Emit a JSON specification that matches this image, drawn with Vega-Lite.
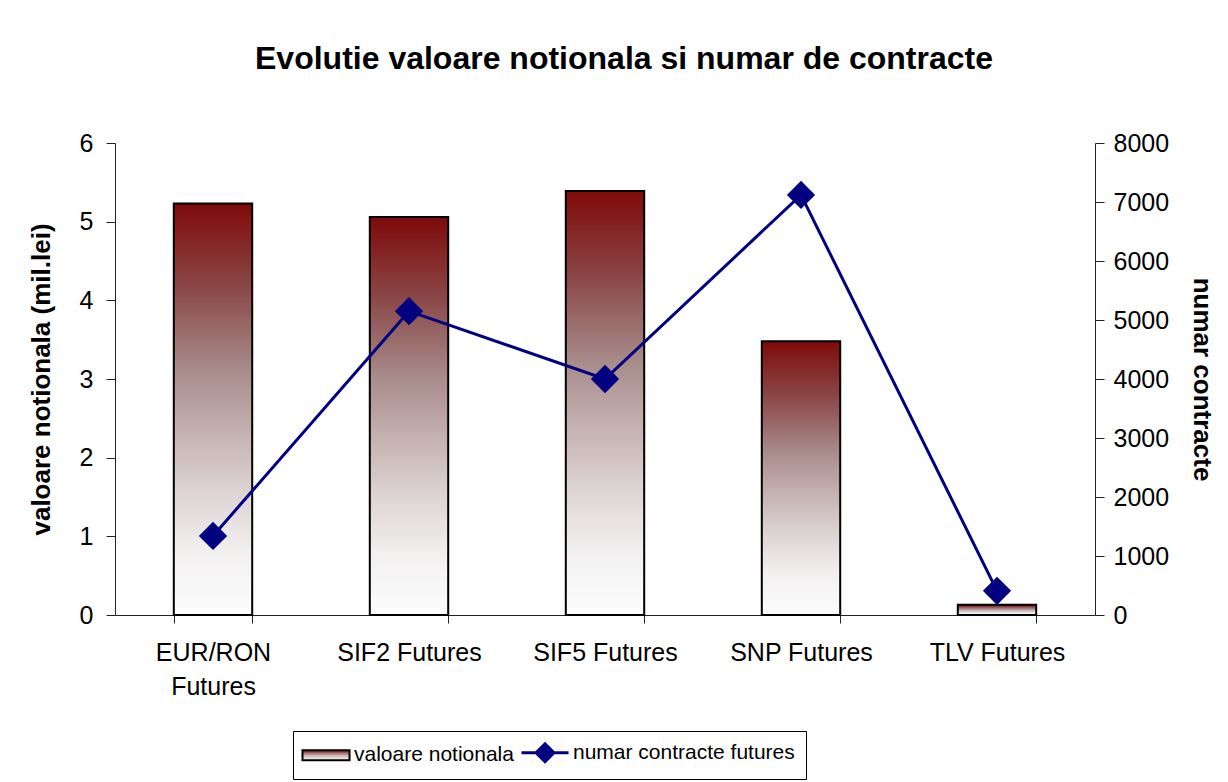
{
  "$schema": "https://vega.github.io/schema/vega-lite/v6.json",
  "width": 980,
  "height": 472,
  "autosize": {"type": "none"},
  "padding": {"left": 115, "top": 143, "right": 133, "bottom": 167},
  "background": "white",
  "title": {
    "text": "Evolutie valoare notionala si numar de contracte",
    "font": "Liberation Sans",
    "fontSize": 32,
    "fontWeight": "bold",
    "color": "black",
    "anchor": "middle",
    "frame": "group",
    "dx": 19,
    "offset": 55
  },
  "config": {
    "view": {"stroke": null},
    "font": "Liberation Sans",
    "axis": {
      "labelFont": "Liberation Sans",
      "titleFont": "Liberation Sans",
      "labelFontSize": 25,
      "titleFontSize": 26,
      "titleFontWeight": "bold",
      "labelColor": "black",
      "titleColor": "black",
      "domainColor": "#222",
      "tickColor": "#222",
      "grid": false
    }
  },
  "data": {
    "values": [
      {"cat": "EUR/RON Futures", "valoare": 5.23, "contracte": 1340},
      {"cat": "SIF2 Futures", "valoare": 5.06, "contracte": 5150},
      {"cat": "SIF5 Futures", "valoare": 5.39, "contracte": 4000},
      {"cat": "SNP Futures", "valoare": 3.48, "contracte": 7120},
      {"cat": "TLV Futures", "valoare": 0.13, "contracte": 410}
    ]
  },
  "encoding": {
    "x": {
      "field": "cat",
      "type": "nominal",
      "sort": null,
      "scale": {"paddingInner": 0.6, "paddingOuter": 0.3},
      "axis": {
        "title": null,
        "labelAngle": 0,
        "tickBand": "extent",
        "tickSize": 8,
        "labelPadding": 17,
        "labelLimit": 300,
        "labelLineHeight": 34,
        "labelBaseline": "top",
        "labelExpr": "datum.label == 'EUR/RON Futures' ? ['EUR/RON', 'Futures'] : datum.label"
      }
    }
  },
  "layer": [
    {
      "mark": {
        "type": "bar",
        "strokeWidth": 2,
        "stroke": "black",
        "fill": {
          "gradient": "linear",
          "x1": 0, "y1": 0, "x2": 0, "y2": 1,
          "stops": [
            {"offset": 0, "color": "#7f0a0a"},
            {"offset": 0.2, "color": "#8a4646"},
            {"offset": 0.4, "color": "#a88a8a"},
            {"offset": 0.55, "color": "#c4b0b0"},
            {"offset": 0.7, "color": "#ddd3d3"},
            {"offset": 0.85, "color": "#f2f0f0"},
            {"offset": 1, "color": "#fdfdfd"}
          ]
        }
      },
      "encoding": {
        "y": {
          "field": "valoare",
          "type": "quantitative",
          "scale": {"domain": [0, 6], "nice": false},
          "axis": {
            "title": "valoare notionala (mil.lei)",
            "orient": "left",
            "values": [0, 1, 2, 3, 4, 5, 6],
            "tickSize": 9,
            "labelPadding": 13,
            "titlePadding": 25
          }
        }
      }
    },
    {
      "layer": [
        {
          "mark": {"type": "line", "strokeWidth": 3},
          "encoding": {
            "stroke": {
              "datum": "numar contracte futures",
              "type": "nominal",
              "scale": {"domain": ["valoare notionala", "numar contracte futures"], "range": ["black", "#000080"]},
              "legend": {
                "title": null,
                "orient": "none",
                "legendX": 178,
                "legendY": 588,
                "direction": "horizontal",
                "strokeColor": "black",
                "padding": 11,
                "labelFont": "Liberation Sans",
                "labelFontSize": 21,
                "labelColor": "black",
                "labelLimit": 400,
                "labelOffset": 29,
                "columnPadding": 1,
                "symbolSize": 576,
                "symbolOpacity": 1,
                "symbolType": {"expr": "datum.value === 'valoare notionala' ? 'M-1,-0.42H2.92V0.42H-1Z' : 'M-1,0H0.21L0.96,-0.75L1.71,0H2.92H1.71L0.96,0.75L0.21,0Z'"},
                "symbolFillColor": {"expr": "datum.value === 'valoare notionala' ? {gradient: 'linear', x1: 0, y1: 0, x2: 0, y2: 1, stops: [{offset: 0, color: '#7f0a0a'}, {offset: 0.5, color: '#c4b0b0'}, {offset: 1, color: '#ffffff'}]} : '#000080'"},
                "symbolStrokeWidth": {"expr": "datum.value === 'valoare notionala' ? 2 : 3"}
              }
            }
          }
        },
        {
          "mark": {"type": "point", "shape": "diamond", "filled": true, "size": 800, "color": "#000080", "opacity": 1}
        }
      ],
      "encoding": {
        "y": {
          "field": "contracte",
          "type": "quantitative",
          "scale": {"domain": [0, 8000], "nice": false},
          "axis": {
            "title": "numar contracte",
            "orient": "right",
            "format": "d",
            "values": [0, 1000, 2000, 3000, 4000, 5000, 6000, 7000, 8000],
            "tickSize": 9,
            "labelPadding": 9,
            "titlePadding": 20
          }
        }
      }
    }
  ],
  "resolve": {"scale": {"y": "independent"}}
}
